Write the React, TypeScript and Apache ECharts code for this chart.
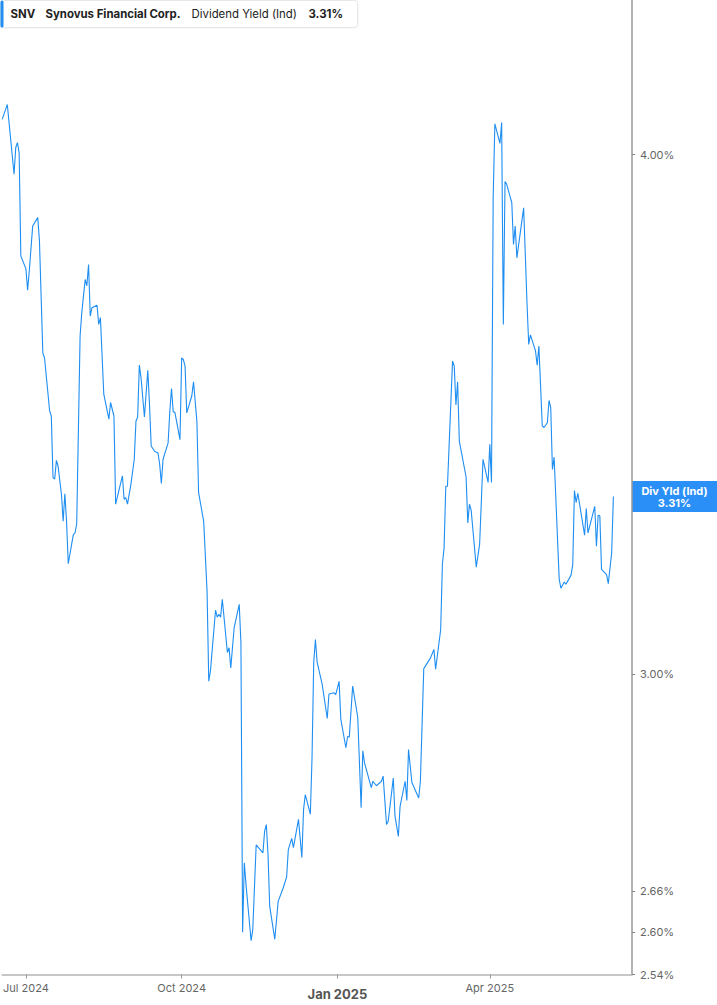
import React, { useEffect, useRef } from "react";
import * as echarts from "echarts";

const dates = [
  "2024-06-17","2024-06-20","2024-06-24","2024-06-25","2024-06-26","2024-06-27","2024-06-28",
  "2024-07-01","2024-07-02","2024-07-03","2024-07-05","2024-07-08","2024-07-09","2024-07-11","2024-07-12",
  "2024-07-15","2024-07-16","2024-07-17","2024-07-18","2024-07-19","2024-07-20","2024-07-22","2024-07-23",
  "2024-07-24","2024-07-25","2024-07-26","2024-07-29","2024-07-30","2024-07-31",
  "2024-08-02","2024-08-03","2024-08-05","2024-08-06","2024-08-07","2024-08-08","2024-08-09","2024-08-12",
  "2024-08-13","2024-08-14","2024-08-16","2024-08-19","2024-08-20","2024-08-22","2024-08-23","2024-08-27",
  "2024-08-28","2024-08-29","2024-08-30",
  "2024-09-01","2024-09-03","2024-09-04","2024-09-05","2024-09-06","2024-09-07","2024-09-09","2024-09-11",
  "2024-09-12","2024-09-13","2024-09-15","2024-09-17","2024-09-18","2024-09-19","2024-09-20","2024-09-23",
  "2024-09-24","2024-09-25","2024-09-26","2024-09-27","2024-09-30",
  "2024-10-01","2024-10-02","2024-10-03","2024-10-04","2024-10-07","2024-10-08","2024-10-10","2024-10-11",
  "2024-10-14","2024-10-16","2024-10-17","2024-10-18","2024-10-21","2024-10-22","2024-10-23","2024-10-24",
  "2024-10-25","2024-10-28","2024-10-29","2024-10-30",
  "2024-11-01","2024-11-04","2024-11-05","2024-11-06","2024-11-07","2024-11-08","2024-11-11","2024-11-12",
  "2024-11-14","2024-11-18","2024-11-19","2024-11-20","2024-11-21","2024-11-22","2024-11-25","2024-11-27",
  "2024-11-30",
  "2024-12-02","2024-12-03","2024-12-05","2024-12-06","2024-12-09","2024-12-11","2024-12-12","2024-12-13",
  "2024-12-16","2024-12-17","2024-12-18","2024-12-19","2024-12-20","2024-12-23","2024-12-26","2024-12-27",
  "2024-12-30","2024-12-31",
  "2025-01-02","2025-01-03","2025-01-06","2025-01-07","2025-01-08","2025-01-10","2025-01-13","2025-01-15",
  "2025-01-16","2025-01-17","2025-01-21","2025-01-22","2025-01-24","2025-01-27","2025-01-28","2025-01-30",
  "2025-01-31",
  "2025-02-03","2025-02-04","2025-02-06","2025-02-07","2025-02-10","2025-02-11","2025-02-12","2025-02-14",
  "2025-02-18","2025-02-19","2025-02-21","2025-02-25","2025-02-27","2025-02-28",
  "2025-03-03","2025-03-04","2025-03-05","2025-03-06","2025-03-07","2025-03-08","2025-03-10","2025-03-11",
  "2025-03-12","2025-03-13","2025-03-14","2025-03-18","2025-03-19","2025-03-20","2025-03-21","2025-03-24",
  "2025-03-26","2025-03-28","2025-03-31",
  "2025-04-01","2025-04-02","2025-04-03","2025-04-04","2025-04-07","2025-04-08","2025-04-09","2025-04-10",
  "2025-04-11","2025-04-14","2025-04-15","2025-04-16","2025-04-17","2025-04-21","2025-04-23","2025-04-24",
  "2025-04-25","2025-04-28","2025-04-29","2025-04-30",
  "2025-05-02","2025-05-03","2025-05-05","2025-05-06","2025-05-07","2025-05-08","2025-05-09","2025-05-12",
  "2025-05-13","2025-05-15","2025-05-16","2025-05-19","2025-05-20","2025-05-21","2025-05-22","2025-05-23",
  "2025-05-27","2025-05-28","2025-05-29",
  "2025-06-02","2025-06-03","2025-06-04","2025-06-05","2025-06-06","2025-06-09","2025-06-10","2025-06-12",
  "2025-06-13"
];

const divYield = [
  4.079,4.113,3.957,4.016,4.027,4.004,3.782,
  3.755,3.711,3.751,3.845,3.863,3.813,3.584,3.574,
  3.471,3.461,3.345,3.342,3.377,3.366,3.314,3.265,
  3.315,3.265,3.189,3.241,3.244,3.260,
  3.618,3.665,3.733,3.720,3.764,3.658,3.675,3.680,
  3.641,3.655,3.503,3.455,3.487,3.461,3.296,3.348,
  3.305,3.308,3.296,
  3.332,3.379,3.451,3.459,3.560,3.535,3.459,3.550,
  3.483,3.404,3.394,3.391,3.370,3.334,3.379,3.410,
  3.470,3.514,3.469,3.468,3.416,
  3.574,3.571,3.558,3.467,3.500,3.527,3.451,3.317,
  3.265,3.141,2.988,3.005,3.108,3.096,3.101,3.096,
  3.127,3.036,3.044,3.010,
  3.078,3.118,3.052,2.600,2.702,2.670,2.588,2.604,
  2.729,2.717,2.750,2.760,2.715,2.638,2.590,2.645,
  2.665,
  2.681,2.722,2.739,2.725,2.768,2.710,2.783,2.806,
  2.776,2.864,3.019,3.058,3.020,2.983,2.927,2.967,
  2.969,2.966,
  2.988,2.926,2.880,2.898,2.897,2.980,2.929,2.786,
  2.875,2.856,2.817,2.827,2.820,2.827,2.835,2.760,
  2.765,
  2.832,2.773,2.742,2.788,2.827,2.797,2.877,2.825,
  2.801,2.827,3.009,3.027,3.041,3.008,
  3.075,3.188,3.217,3.329,3.329,3.407,3.568,3.558,
  3.482,3.527,3.413,3.346,3.262,3.296,3.285,3.183,
  3.224,3.379,3.336,
  3.407,3.336,3.906,4.069,4.025,4.072,3.641,3.941,
  3.935,3.895,3.806,3.845,3.778,3.884,3.682,3.601,
  3.620,3.588,3.560,3.598,
  3.442,3.439,3.448,3.491,3.477,3.360,3.383,3.162,
  3.146,3.157,3.153,3.169,3.188,3.321,3.299,3.316,
  3.240,3.288,3.244,
  3.292,3.220,3.276,3.275,3.179,3.170,3.154,3.209,
  3.310
];

const xTickDates = ["2024-07-01", "2024-10-01", "2025-01-01", "2025-04-01"];
const xRange = ["2024-06-17", "2025-06-24"];
const yTickValues = [2.54, 2.6, 2.66, 3.0, 4.0];

const ticker = "SNV";
const companyName = "Synovus Financial Corp.";
const metricName = "Dividend Yield (Ind)";
const lastValueLabel = "3.31%";
const lastValue = 3.31;
const endTagName = "Div Yld (Ind)";

const BLUE = "#1f8ef1";
const FONT = "Inter, 'Noto Sans', sans-serif";
const MONTHS = ["Jan","Feb","Mar","Apr","May","Jun","Jul","Aug","Sep","Oct","Nov","Dec"];

const ts = (d: string) => Date.UTC(+d.slice(0, 4), +d.slice(5, 7) - 1, +d.slice(8, 10));

export default function App() {
  const ref = useRef<HTMLDivElement>(null);
  useEffect(() => {
    if (!ref.current) return;
    const chart = echarts.init(ref.current, null, { renderer: "svg" });
    const xTicks = xTickDates.map(ts);
    chart.setOption({
      animation: false,
      backgroundColor: "#ffffff",
      textStyle: { fontFamily: FONT },
      grid: { left: 0, right: 85, top: 0, bottom: 30.5, containLabel: false },
      xAxis: {
        type: "value",
        min: ts(xRange[0]),
        max: ts(xRange[1]),
        splitLine: { show: false },
        axisLine: { lineStyle: { color: "#b5b5b5", width: 1.5 } },
        axisTick: { show: true, length: 4, customValues: xTicks, lineStyle: { color: "#999" } },
        axisLabel: {
          customValues: xTicks,
          margin: 8,
          color: "#666",
          fontSize: 11,
          fontFamily: FONT,
          hideOverlap: false,
          formatter: (v: number) => {
            const d = new Date(v);
            const s = MONTHS[d.getUTCMonth()] + " " + d.getUTCFullYear();
            return d.getUTCMonth() === 0 ? "{b|" + s + "}" : s;
          },
          rich: {
            b: { fontWeight: "bold", fontSize: 13, color: "#555", padding: [5, 0, 0, 0], fontFamily: FONT },
          },
        },
      },
      yAxis: {
        type: "log",
        position: "right",
        min: 2.54,
        max: 4.358,
        splitLine: { show: false },
        axisLine: { show: true, lineStyle: { color: "#999", width: 1.5 } },
        axisTick: { show: true, length: 3, customValues: yTickValues, lineStyle: { color: "#888" } },
        axisLabel: {
          customValues: yTickValues,
          margin: 8,
          color: "#666",
          fontSize: 11,
          fontFamily: FONT,
          formatter: (v: number) => v.toFixed(2) + "%",
        },
      },
      series: [
        {
          type: "line",
          data: dates.map((d, i) => [ts(d), divYield[i]]),
          showSymbol: false,
          symbol: "none",
          lineStyle: { color: BLUE, width: 1.1 },
          itemStyle: { color: BLUE },
        },
      ],
    });

    const yPix = chart.convertToPixel({ yAxisIndex: 0 }, lastValue) as number;
    const tf = (w: string) => w + " 11.4px " + FONT;
    chart.setOption({
      graphic: [
        {
          type: "group",
          left: 0,
          top: 0,
          children: [
            { type: "rect", shape: { x: 3, y: 4, width: 357, height: 27, r: 3 }, style: { fill: "#fff", stroke: "#e8e8e8", lineWidth: 1, shadowBlur: 2, shadowColor: "rgba(0,0,0,0.08)" } },
            { type: "rect", shape: { x: 3, y: 4, width: 3, height: 27, r: 1.5 }, style: { fill: BLUE } },
            { type: "text", x: 13, y: 17.5, style: { text: ticker, fill: "#222", font: tf("bold"), verticalAlign: "middle" } },
            { type: "text", x: 48, y: 17.5, style: { text: companyName, fill: "#222", font: tf("bold"), verticalAlign: "middle" } },
            { type: "text", x: 194, y: 17.5, style: { text: metricName, fill: "#222", font: tf("normal"), verticalAlign: "middle" } },
            { type: "text", x: 311, y: 17.5, style: { text: lastValueLabel, fill: "#222", font: tf("bold"), verticalAlign: "middle" } },
          ],
        },
        { type: "rect", shape: { x: 632, y: yPix - 15.5, width: 85, height: 31 }, style: { fill: "#2a8ff7" } },
        { type: "text", x: 674.5, y: yPix - 6, style: { text: endTagName, fill: "#fff", font: "bold 11px " + FONT, align: "center", verticalAlign: "middle" } },
        { type: "text", x: 674.5, y: yPix + 6, style: { text: lastValueLabel, fill: "#fff", font: "bold 11px " + FONT, align: "center", verticalAlign: "middle" } },
      ],
    });
    return () => chart.dispose();
  }, []);
  return <div ref={ref} style={{ position: "absolute", left: 0, top: 0, width: 717, height: 1005 }} />;
}
